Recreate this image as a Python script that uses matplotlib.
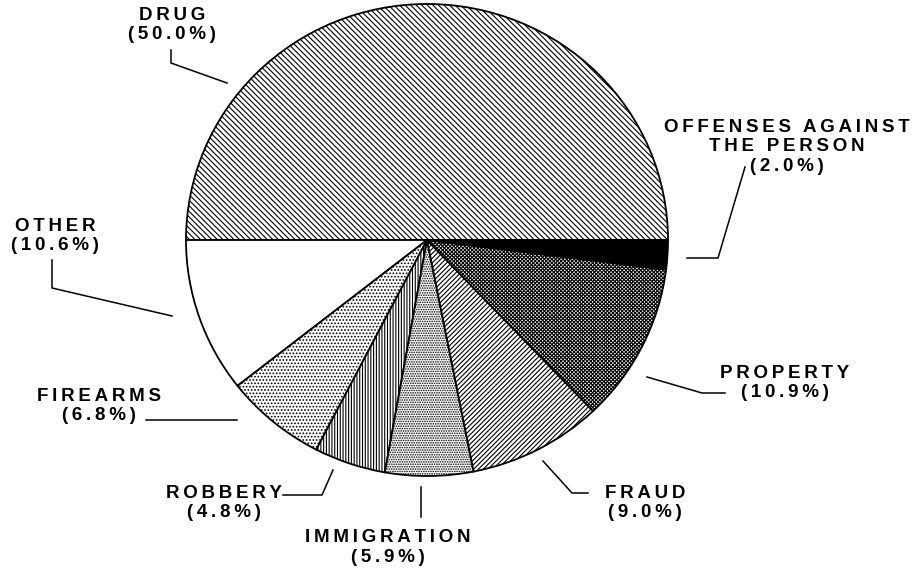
import matplotlib
matplotlib.use("Agg")
import matplotlib.pyplot as plt

# offense shares, counterclockwise from 3 o'clock
categories = ["DRUG", "OTHER", "FIREARMS", "ROBBERY", "IMMIGRATION",
              "FRAUD", "PROPERTY", "OFFENSES AGAINST\nTHE PERSON"]
shares = [50.0, 10.6, 6.8, 4.8, 5.9, 9.0, 10.9, 2.0]
hatches = ["\\" * 6, "", "." * 5, "|" * 6, "." * 7, "/" * 7, "x" * 9, ""]
fills = ["white", "white", "white", "white", "white", "white", "white", "black"]

# label layout in pixels: (text center x, first line y, leader polyline)
label_pos = {
    "DRUG": (172, 15, [(227, 83), (171, 63), (171, 50)]),
    "OTHER": (55, 226, [(172, 316), (52, 288), (52, 260)]),
    "FIREARMS": (99, 396, [(237, 420), (146, 420)]),
    "ROBBERY": (224, 493, [(333, 470), (322, 495), (283, 495)]),
    "IMMIGRATION": (388, 538, [(421, 487), (421, 517)]),
    "FRAUD": (645, 493, [(543, 461), (572, 493), (588, 493)]),
    "PROPERTY": (785, 373, [(647, 377), (702, 393), (725, 393)]),
    "OFFENSES AGAINST\nTHE PERSON": (787, 127, [(687, 258), (718, 258), (745, 167)]),
}

plt.rcParams['hatch.linewidth'] = 0.8
W, H = 920, 569
fig = plt.figure(figsize=(9.2, 5.69), dpi=100)

# pie axes, slightly squashed vertically like the original
cx, cy, rx, ry = 427, 240, 241, 236
axp = fig.add_axes([0, 0, 1, 1])
axp.pie(shares, startangle=0, counterclock=True, colors=fills, radius=1,
        wedgeprops=dict(edgecolor="black", linewidth=1.3))
for w, h in zip(axp.patches, hatches):
    w.set_hatch(h)
axp.set_xlim(-cx / rx, (W - cx) / rx)
axp.set_ylim(-(H - cy) / ry, cy / ry)
axp.set_aspect("auto")
axp.axis("off")

# annotation layer in pixel coordinates
ax = fig.add_axes([0, 0, 1, 1], zorder=3)
ax.set_xlim(0, W)
ax.set_ylim(H, 0)
ax.axis("off")
ax.patch.set_alpha(0)


def spaced(s):
    return "\u2009".join(s).replace("\u2009 \u2009", "\u2009\u2009 ")


fam = ["Liberation Sans", "DejaVu Sans"]
for name, pct in zip(categories, shares):
    x, y, pts = label_pos[name]
    lines = name.split("\n") + ["(%.1f%%)" % pct]
    for i, ln in enumerate(lines):
        ax.text(x, y + i * 19.5, spaced(ln), ha="center", va="center",
                fontsize=13.5, fontweight="bold", family=fam)
    xs = [p[0] for p in pts]
    ys = [p[1] for p in pts]
    ax.plot(xs, ys, color="black", lw=1.1)

fig.savefig("out.png", dpi=100, facecolor="white")
